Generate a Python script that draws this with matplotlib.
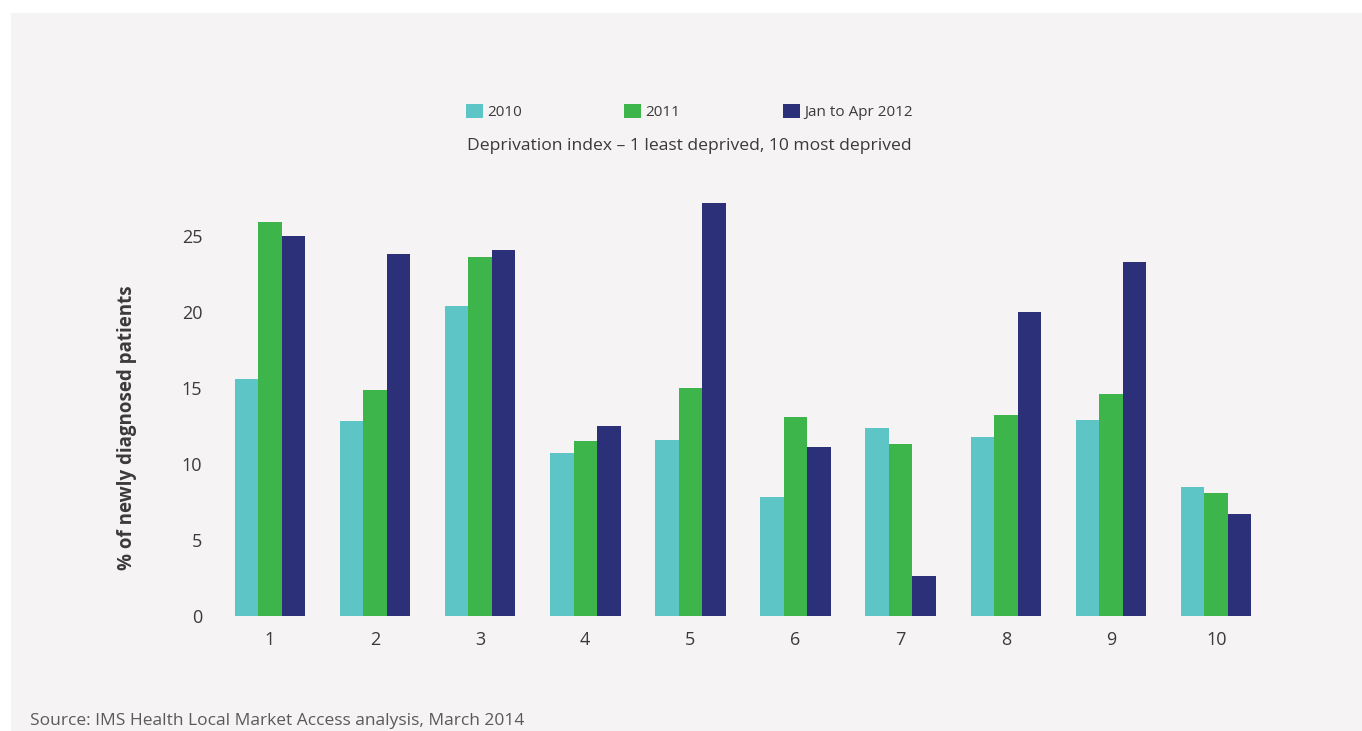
import numpy as np
import matplotlib
matplotlib.use("Agg")
import matplotlib.pyplot as plt
from matplotlib.patches import Rectangle, Patch

# data
groups = ['1', '2', '3', '4', '5', '6', '7', '8', '9', '10']
series_names = ['2010', '2011', 'Jan to Apr 2012']
vals_2010 = [15.6, 12.8, 20.4, 10.7, 11.6, 7.8, 12.4, 11.8, 12.9, 8.5]
vals_2011 = [25.9, 14.9, 23.6, 11.5, 15.0, 13.1, 11.3, 13.2, 14.6, 8.1]
vals_2012 = [25.0, 23.8, 24.1, 12.5, 27.2, 11.1, 2.6, 20.0, 23.3, 6.7]
y_ticks = [0, 5, 10, 15, 20, 25]

colors = ['#5ec5c6', '#3db54a', '#2b3078']
bg = '#f5f3f4'
txt = '#3a3a3a'

plt.rcParams['font.family'] = ['Open Sans', 'DejaVu Sans']

W, H = 1362, 731
fig = plt.figure(figsize=(W / 100, H / 100), dpi=100, facecolor='white')

# light panel behind the chart
fig.patches.append(Rectangle((11 / W, 0), 1 - 11 / W, 1 - 13 / H,
                             transform=fig.transFigure, facecolor=bg,
                             edgecolor='none', zorder=-10))

ax = fig.add_axes([212 / W, (H - 616) / H, 1062 / W, (616 - 190.4) / H])
ax.set_facecolor('none')

x = np.arange(1, len(groups) + 1)
bw = 0.224
for i, (vals, c) in enumerate(zip([vals_2010, vals_2011, vals_2012], colors)):
    ax.bar(x + (i - 1) * bw, vals, width=bw, color=c, edgecolor='none')

ax.set_xlim(0.45, 10.55)
ax.set_ylim(0, 28)
ax.set_xticks(x)
ax.set_xticklabels(groups)
ax.set_yticks(y_ticks)
for s in ax.spines.values():
    s.set_visible(False)
ax.tick_params(length=0, labelsize=13, colors=txt)
ax.tick_params(axis='x', pad=11)
ax.tick_params(axis='y', pad=7)

ax.set_ylabel('% of newly diagnosed patients', fontsize=13.5,
              fontweight='bold', color=txt)
ax.yaxis.set_label_coords(-0.0707, 0.4417)

handles = [Patch(facecolor=c, edgecolor='none') for c in colors]
fig.legend(handles, series_names, loc='center left',
           bbox_to_anchor=(452 / W, 1 - 112 / H), ncol=3, frameon=False,
           fontsize=11, handlelength=1.1, handleheight=1.1,
           handletextpad=0.3, columnspacing=6.7, labelcolor=txt)

fig.text(689 / W, 1 - 146 / H,
         'Deprivation index \u2013 1 least deprived, 10 most deprived',
         ha='center', va='center', fontsize=12.6, color=txt)

fig.text(30 / W, 1 - 721 / H,
         'Source: IMS Health Local Market Access analysis, March 2014',
         ha='left', va='center', fontsize=12.5, color='#5a5a5a')

fig.savefig('out.png', dpi=100, facecolor=fig.get_facecolor())
